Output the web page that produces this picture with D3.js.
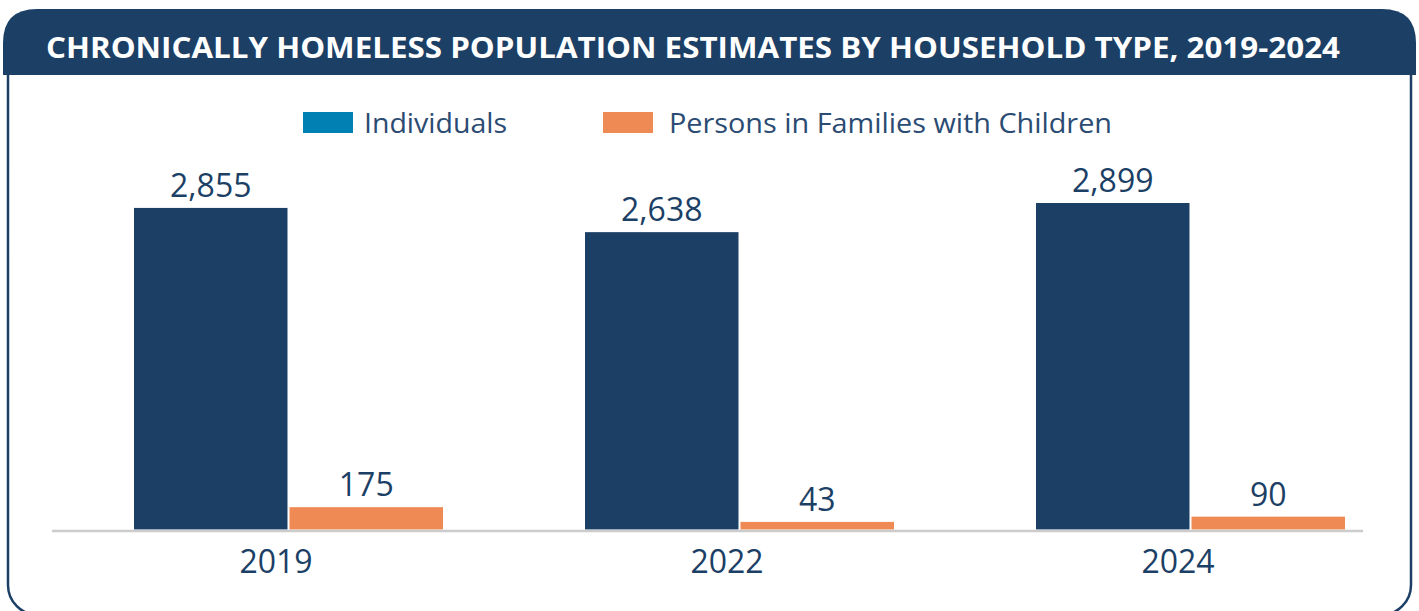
<!DOCTYPE html>
<html>
<head>
<meta charset="utf-8">
<script src="https://cdn.jsdelivr.net/npm/d3@7"></script>
<style>
  html, body { margin: 0; padding: 0; background: #ffffff; }
  svg { display: block; }
</style>
</head>
<body>
<svg id="chart" width="1419" height="611"></svg>
<script>
const title = "CHRONICALLY HOMELESS POPULATION ESTIMATES BY HOUSEHOLD TYPE, 2019-2024";
const categories = ["2019", "2022", "2024"];
const seriesNames = ["Individuals", "Persons in Families with Children"];
const individuals = [2855, 2638, 2899];
const families = [175, 43, 90];

const navy = "#1c3f66";
const colors = { "Individuals": navy, "Persons in Families with Children": "#f08a55" };
const legendColors = { "Individuals": "#0080b3", "Persons in Families with Children": "#f08a55" };
const font = "'Open Sans', 'DejaVu Sans', sans-serif";

const svg = d3.select("#chart");

// Frame
svg.append("rect")
  .attr("x", 8).attr("y", 12).attr("width", 1403).attr("height", 603)
  .attr("rx", 30).attr("ry", 30)
  .attr("fill", "#fff").attr("stroke", navy).attr("stroke-width", 2.5);

// Title bar with rounded top corners
const tb = { x0: 3, x1: 1416, y0: 9, y1: 75, r: 34 };
svg.append("path")
  .attr("d", `M${tb.x0},${tb.y1} L${tb.x0},${tb.y0 + tb.r} Q${tb.x0},${tb.y0} ${tb.x0 + tb.r},${tb.y0}
              L${tb.x1 - tb.r},${tb.y0} Q${tb.x1},${tb.y0} ${tb.x1},${tb.y0 + tb.r} L${tb.x1},${tb.y1} Z`)
  .attr("fill", navy);

svg.append("text")
  .attr("x", 46).attr("y", 58)
  .attr("fill", "#fff")
  .attr("font-family", font).attr("font-weight", 700).attr("font-size", 28)
  .attr("textLength", 1294).attr("lengthAdjust", "spacingAndGlyphs")
  .text(title);

// Legend
const legendItems = [
  { name: seriesNames[0], sx: 303, tx: 364, w: 143 },
  { name: seriesNames[1], sx: 603, tx: 669, w: 443 }
];
const lg = svg.append("g");
lg.selectAll("rect").data(legendItems).join("rect")
  .attr("x", d => d.sx).attr("y", 112).attr("width", 50).attr("height", 21)
  .attr("fill", d => legendColors[d.name]);
lg.selectAll("text").data(legendItems).join("text")
  .attr("x", d => d.tx).attr("y", 133)
  .attr("fill", "#2b4b72")
  .attr("font-family", font).attr("font-size", 27).attr("font-weight", 400)
  .attr("textLength", d => d.w).attr("lengthAdjust", "spacingAndGlyphs")
  .text(d => d.name);

// Scales
const x0 = d3.scalePoint().domain(categories).range([276, 1178]);
const x1 = d3.scaleBand().domain(seriesNames).range([-142, 167]).paddingInner(0.013);
const y = d3.scaleLinear().domain([-25, 2899]).range([529.5, 203]);

const data = [];
categories.forEach((c, i) => {
  data.push({ cat: c, series: seriesNames[0], value: individuals[i] });
  data.push({ cat: c, series: seriesNames[1], value: families[i] });
});

// Bars
svg.append("g").selectAll("rect").data(data).join("rect")
  .attr("x", d => x0(d.cat) + x1(d.series))
  .attr("y", d => y(d.value))
  .attr("width", x1.bandwidth())
  .attr("height", d => y.range()[0] - y(d.value))
  .attr("fill", d => colors[d.series]);

// Value labels
svg.append("g").selectAll("text").data(data).join("text")
  .attr("x", d => x0(d.cat) + x1(d.series) + x1.bandwidth() / 2)
  .attr("y", d => y(d.value) - 11)
  .attr("text-anchor", "middle")
  .attr("fill", navy)
  .attr("font-family", font).attr("font-size", 32)
  .text(d => d3.format(",")(d.value));

// Axis baseline
svg.append("line")
  .attr("x1", 52).attr("x2", 1363)
  .attr("y1", 531).attr("y2", 531)
  .attr("stroke", "#cccccc").attr("stroke-width", 2.5);

// Category labels
svg.append("g").selectAll("text").data(categories).join("text")
  .attr("x", d => x0(d))
  .attr("y", 573)
  .attr("text-anchor", "middle")
  .attr("fill", navy)
  .attr("font-family", font).attr("font-size", 32)
  .text(d => d);
</script>
</body>
</html>
